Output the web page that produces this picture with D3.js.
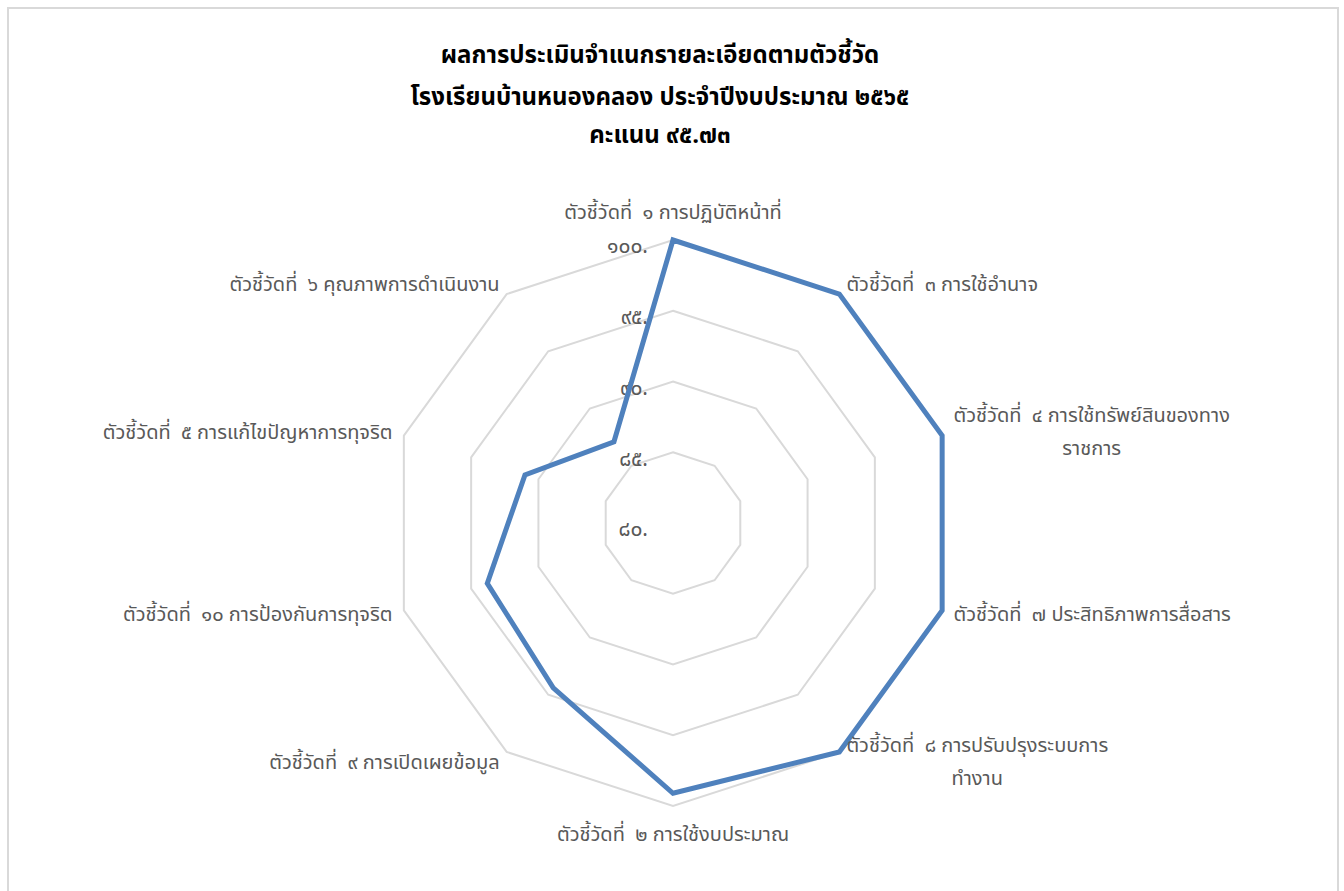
<!DOCTYPE html>
<html>
<head>
<meta charset="utf-8">
<script src="https://cdn.jsdelivr.net/npm/d3@7"></script>
<style>
  body { margin: 0; background: #fff; }
  svg text { font-family: "Leelawadee UI", Tahoma, "Noto Sans Thai", "Noto Sans", sans-serif; white-space: pre; }
</style>
</head>
<body>
<div id="radar"></div>
<script>
// chart data, clockwise from the top
var categories = [
  "ตัวชี้วัดที่  ๑ การปฏิบัติหน้าที่",
  "ตัวชี้วัดที่  ๓ การใช้อำนาจ",
  "ตัวชี้วัดที่  ๔ การใช้ทรัพย์สินของทาง\nราชการ",
  "ตัวชี้วัดที่  ๗ ประสิทธิภาพการสื่อสาร",
  "ตัวชี้วัดที่  ๘ การปรับปรุงระบบการ\nทำงาน",
  "ตัวชี้วัดที่  ๒ การใช้งบประมาณ",
  "ตัวชี้วัดที่  ๙ การเปิดเผยข้อมูล",
  "ตัวชี้วัดที่  ๑๐ การป้องกันการทุจริต",
  "ตัวชี้วัดที่  ๕ การแก้ไขปัญหาการทุจริต",
  "ตัวชี้วัดที่  ๖ คุณภาพการดำเนินงาน"
];
var scores = [100, 100, 100, 100, 100, 99.1, 94.4, 93.8, 91.0, 87.1];
var tickValues = [80, 85, 90, 95, 100];
var tickLabels = ["๘๐.", "๘๕.", "๙๐.", "๙๕.", "๑๐๐."];
var titleLines = [
  "ผลการประเมินจำแนกรายละเอียดตามตัวชี้วัด",
  "โรงเรียนบ้านหนองคลอง ประจำปีงบประมาณ ๒๕๖๕",
  "คะแนน ๙๕.๗๓"
];

var width = 1344, height = 891;
var cx = 673, cy = 523, R = 283;

var svg = d3.select("#radar")
  .append("svg")
    .attr("width", width)
    .attr("height", height);

// chart area border
svg.append("rect")
  .attr("x", 8).attr("y", 8)
  .attr("width", 1330).attr("height", 900)
  .attr("fill", "#fff")
  .attr("stroke", "#d9d9d9")
  .attr("stroke-width", 2);

var r = d3.scaleLinear().domain([80, 100]).range([0, R]);
var angle = d3.scaleLinear().domain([0, categories.length]).range([0, 2 * Math.PI]);

var radial = d3.lineRadial()
  .angle(function(d, i) { return angle(i); })
  .radius(function(d) { return r(d); })
  .curve(d3.curveLinearClosed);

var g = svg.append("g")
  .attr("transform", "translate(" + cx + "," + cy + ")");

// grid rings
g.selectAll(".ring")
  .data(tickValues.slice(1))
  .enter()
  .append("path")
    .attr("class", "ring")
    .attr("d", function(v) { return radial(categories.map(function() { return v; })); })
    .attr("fill", "none")
    .attr("stroke", "#d9d9d9")
    .attr("stroke-width", 2);

// tick labels
g.selectAll(".tick")
  .data(tickValues)
  .enter()
  .append("text")
    .attr("class", "tick")
    .attr("x", -25)
    .attr("y", function(v) { return -r(v) + 6; })
    .attr("dy", "0.35em")
    .attr("text-anchor", "end")
    .attr("fill", "#595959")
    .style("font-size", "21px")
    .text(function(v, i) { return tickLabels[i]; });

// series
g.append("path")
  .attr("d", radial(scores))
  .attr("fill", "none")
  .attr("stroke", "#4f81bd")
  .attr("stroke-width", 5)
  .attr("stroke-linejoin", "miter");

// category labels
var lineH = 33;
categories.forEach(function(label, i) {
  var a = angle(i);
  var s = Math.sin(a), c = Math.cos(a);
  var px = (R + 12) * s, py = -(R + 12) * c;
  var anchor = s > 0.01 ? "start" : (s < -0.01 ? "end" : "middle");
  if (anchor == "middle") py += -c * 16;
  var lines = label.split("\n");
  var t = g.append("g");
  var texts = lines.map(function(l) {
    return t.append("text")
      .attr("fill", "#595959")
      .style("font-size", "20px")
      .attr("text-anchor", "middle")
      .attr("dy", "0.35em")
      .text(l);
  });
  var maxW = d3.max(texts, function(tx) { return tx.node().getComputedTextLength(); });
  var mx = anchor == "start" ? px + maxW / 2 : (anchor == "end" ? px - maxW / 2 : px);
  var y0 = py - (lines.length - 1) * lineH / 2;
  texts.forEach(function(tx, j) {
    tx.attr("x", mx).attr("y", y0 + j * lineH);
  });
});

// title
svg.selectAll(".title")
  .data(titleLines)
  .enter()
  .append("text")
    .attr("class", "title")
    .attr("x", 660)
    .attr("y", function(d, i) { return [55, 97, 135][i]; })
    .attr("dy", "0.35em")
    .attr("text-anchor", "middle")
    .style("font-size", "24px")
    .style("font-weight", "bold")
    .attr("fill", "#000")
    .text(function(d) { return d; });
</script>
</body>
</html>
